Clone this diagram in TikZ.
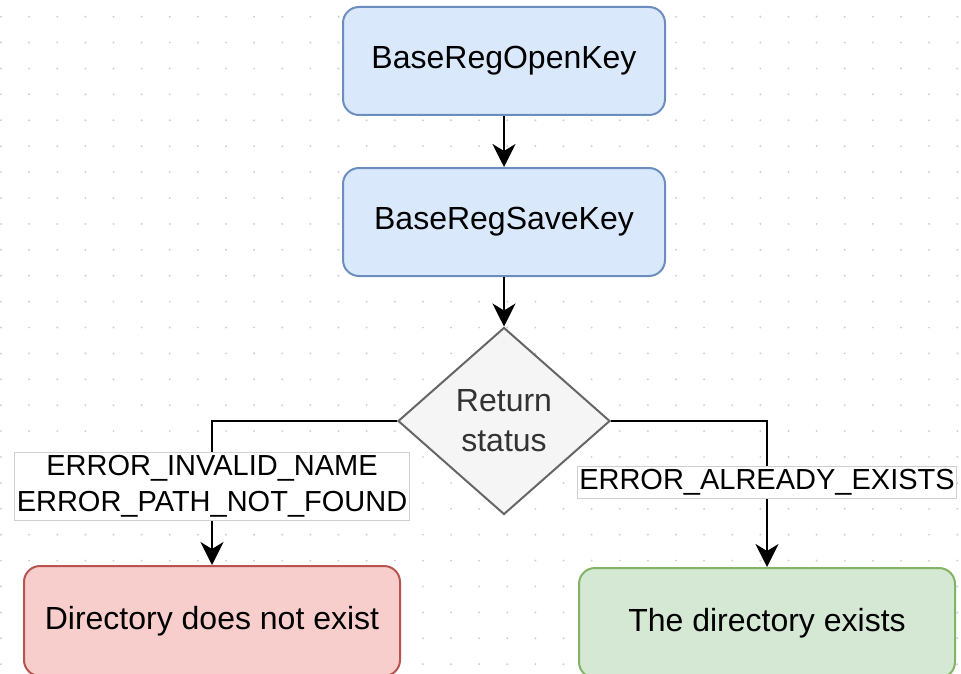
\documentclass[tikz,border=0pt]{standalone}
\usepackage{fontspec}
\setmainfont{Liberation Sans}
\usetikzlibrary{shapes.geometric,arrows.meta}

\definecolor{callfill}{HTML}{DAE8FC}
\definecolor{calldraw}{HTML}{6C8EBF}
\definecolor{failfill}{HTML}{F8CECC}
\definecolor{faildraw}{HTML}{B85450}
\definecolor{okfill}{HTML}{D5E8D4}
\definecolor{okdraw}{HTML}{82B366}
\definecolor{testfill}{HTML}{F5F5F5}
\definecolor{testdraw}{HTML}{666666}
\definecolor{testtext}{HTML}{333333}
\definecolor{griddot}{HTML}{D0D0D0}
\definecolor{tagdraw}{HTML}{CFCFCF}

\begin{document}
\begin{tikzpicture}[x=1pt, y=-1pt,
    box/.style={draw, rounded corners=16pt, line width=2pt, inner sep=0pt,
        minimum height=108pt, font=\fontsize{32}{38}\selectfont},
    call/.style={box, fill=callfill, draw=calldraw, minimum width=322pt},
    result/.style={box, minimum width=376pt, minimum height=110pt},
    decision/.style={diamond, draw=testdraw, fill=testfill, line width=2pt, inner sep=0pt,
        minimum width=212pt, minimum height=187pt, align=center, text=testtext,
        font=\fontsize{32}{40}\selectfont},
    tag/.style={draw=tagdraw, fill=white, line width=0.8pt, inner xsep=2pt, inner ysep=3pt,
        align=center, text=black, font=\fontsize{29}{36}\selectfont},
    link/.style={line width=2pt, -{Stealth[length=23pt, width=23pt, inset=7pt]}}
]
    \useasboundingbox (0,0) rectangle (961,674);

    % Dotted grid
    \foreach \i in {0,...,34}
        \foreach \j in {0,...,25}
            \fill[griddot] ({1+28.125*\i}, {16.7+25.9*\j}) circle (1.1pt);

    % Draw nodes
    \node[call] (open) at (504, 61) {BaseRegOpenKey};
    \node[call] (save) at (504, 222) {BaseRegSaveKey};
    \node[decision] (status) at (504, 421) {Return\\status};
    \node[result, fill=failfill, draw=faildraw] (missing) at (212, 621) {Directory does not exist};
    \node[result, fill=okfill, draw=okdraw] (exists) at (767, 623) {The directory exists};

    % Draw edges (directed)
    \draw[link] (open) -- (save);
    \draw[link] (save) -- (status);
    \draw[link] (status.west) -| node[tag, pos=0.726] (failtag) {ERROR\_INVALID\_NAME\\ERROR\_PATH\_NOT\_FOUND} (missing.north); % error branch
    \draw[link] (status.east) -| node[tag, pos=0.71] (oktag) {ERROR\_ALREADY\_EXISTS} (exists.north); % exists branch
\end{tikzpicture}
\end{document}
